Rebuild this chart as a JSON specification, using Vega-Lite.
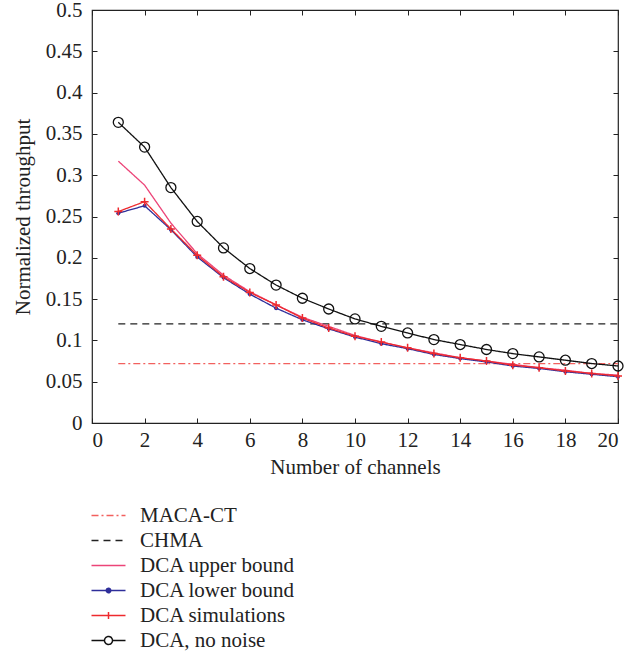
{
  "$schema": "https://vega.github.io/schema/vega-lite/v6.json",
  "autosize": {"type": "none"},
  "width": 526,
  "height": 413,
  "padding": {"left": 92, "top": 10, "right": 24, "bottom": 232},
  "background": "white",
  "config": {
    "view": {"stroke": "#222", "strokeWidth": 1.2},
    "font": "Liberation Serif",
    "axis": {"grid": false, "labelFont": "Liberation Serif", "titleFont": "Liberation Serif", "labelFontSize": 21, "titleFontSize": 21, "titleFontWeight": "normal", "labelColor": "#222", "titleColor": "#222", "tickColor": "#222", "domainColor": "#222", "tickSize": -5, "domain": false}
  },
  "data": {"values": [
    {"series": "MACA-CT", "n": 1, "y": 0.072}, {"series": "MACA-CT", "n": 2, "y": 0.072}, {"series": "MACA-CT", "n": 3, "y": 0.072}, {"series": "MACA-CT", "n": 4, "y": 0.072}, {"series": "MACA-CT", "n": 5, "y": 0.072}, {"series": "MACA-CT", "n": 6, "y": 0.072}, {"series": "MACA-CT", "n": 7, "y": 0.072}, {"series": "MACA-CT", "n": 8, "y": 0.072}, {"series": "MACA-CT", "n": 9, "y": 0.072}, {"series": "MACA-CT", "n": 10, "y": 0.072}, {"series": "MACA-CT", "n": 11, "y": 0.072}, {"series": "MACA-CT", "n": 12, "y": 0.072}, {"series": "MACA-CT", "n": 13, "y": 0.072}, {"series": "MACA-CT", "n": 14, "y": 0.072}, {"series": "MACA-CT", "n": 15, "y": 0.072}, {"series": "MACA-CT", "n": 16, "y": 0.072}, {"series": "MACA-CT", "n": 17, "y": 0.072}, {"series": "MACA-CT", "n": 18, "y": 0.072}, {"series": "MACA-CT", "n": 19, "y": 0.072}, {"series": "MACA-CT", "n": 20, "y": 0.072},
    {"series": "CHMA", "n": 1, "y": 0.12}, {"series": "CHMA", "n": 2, "y": 0.12}, {"series": "CHMA", "n": 3, "y": 0.12}, {"series": "CHMA", "n": 4, "y": 0.12}, {"series": "CHMA", "n": 5, "y": 0.12}, {"series": "CHMA", "n": 6, "y": 0.12}, {"series": "CHMA", "n": 7, "y": 0.12}, {"series": "CHMA", "n": 8, "y": 0.12}, {"series": "CHMA", "n": 9, "y": 0.12}, {"series": "CHMA", "n": 10, "y": 0.12}, {"series": "CHMA", "n": 11, "y": 0.12}, {"series": "CHMA", "n": 12, "y": 0.12}, {"series": "CHMA", "n": 13, "y": 0.12}, {"series": "CHMA", "n": 14, "y": 0.12}, {"series": "CHMA", "n": 15, "y": 0.12}, {"series": "CHMA", "n": 16, "y": 0.12}, {"series": "CHMA", "n": 17, "y": 0.12}, {"series": "CHMA", "n": 18, "y": 0.12}, {"series": "CHMA", "n": 19, "y": 0.12}, {"series": "CHMA", "n": 20, "y": 0.12},
    {"series": "DCA upper bound", "n": 1, "y": 0.317}, {"series": "DCA upper bound", "n": 2, "y": 0.288}, {"series": "DCA upper bound", "n": 3, "y": 0.242}, {"series": "DCA upper bound", "n": 4, "y": 0.205}, {"series": "DCA upper bound", "n": 5, "y": 0.179}, {"series": "DCA upper bound", "n": 6, "y": 0.159}, {"series": "DCA upper bound", "n": 7, "y": 0.143}, {"series": "DCA upper bound", "n": 8, "y": 0.128}, {"series": "DCA upper bound", "n": 9, "y": 0.117}, {"series": "DCA upper bound", "n": 10, "y": 0.106}, {"series": "DCA upper bound", "n": 11, "y": 0.098}, {"series": "DCA upper bound", "n": 12, "y": 0.091}, {"series": "DCA upper bound", "n": 13, "y": 0.085}, {"series": "DCA upper bound", "n": 14, "y": 0.079}, {"series": "DCA upper bound", "n": 15, "y": 0.075}, {"series": "DCA upper bound", "n": 16, "y": 0.071}, {"series": "DCA upper bound", "n": 17, "y": 0.067}, {"series": "DCA upper bound", "n": 18, "y": 0.064}, {"series": "DCA upper bound", "n": 19, "y": 0.060}, {"series": "DCA upper bound", "n": 20, "y": 0.058},
    {"series": "DCA lower bound", "n": 1, "y": 0.254}, {"series": "DCA lower bound", "n": 2, "y": 0.263}, {"series": "DCA lower bound", "n": 3, "y": 0.234}, {"series": "DCA lower bound", "n": 4, "y": 0.201}, {"series": "DCA lower bound", "n": 5, "y": 0.176}, {"series": "DCA lower bound", "n": 6, "y": 0.156}, {"series": "DCA lower bound", "n": 7, "y": 0.139}, {"series": "DCA lower bound", "n": 8, "y": 0.125}, {"series": "DCA lower bound", "n": 9, "y": 0.114}, {"series": "DCA lower bound", "n": 10, "y": 0.104}, {"series": "DCA lower bound", "n": 11, "y": 0.096}, {"series": "DCA lower bound", "n": 12, "y": 0.090}, {"series": "DCA lower bound", "n": 13, "y": 0.083}, {"series": "DCA lower bound", "n": 14, "y": 0.078}, {"series": "DCA lower bound", "n": 15, "y": 0.074}, {"series": "DCA lower bound", "n": 16, "y": 0.069}, {"series": "DCA lower bound", "n": 17, "y": 0.066}, {"series": "DCA lower bound", "n": 18, "y": 0.062}, {"series": "DCA lower bound", "n": 19, "y": 0.059}, {"series": "DCA lower bound", "n": 20, "y": 0.056},
    {"series": "DCA simulations", "n": 1, "y": 0.256}, {"series": "DCA simulations", "n": 2, "y": 0.268}, {"series": "DCA simulations", "n": 3, "y": 0.235}, {"series": "DCA simulations", "n": 4, "y": 0.203}, {"series": "DCA simulations", "n": 5, "y": 0.177}, {"series": "DCA simulations", "n": 6, "y": 0.158}, {"series": "DCA simulations", "n": 7, "y": 0.143}, {"series": "DCA simulations", "n": 8, "y": 0.127}, {"series": "DCA simulations", "n": 9, "y": 0.115}, {"series": "DCA simulations", "n": 10, "y": 0.105}, {"series": "DCA simulations", "n": 11, "y": 0.098}, {"series": "DCA simulations", "n": 12, "y": 0.091}, {"series": "DCA simulations", "n": 13, "y": 0.084}, {"series": "DCA simulations", "n": 14, "y": 0.079}, {"series": "DCA simulations", "n": 15, "y": 0.075}, {"series": "DCA simulations", "n": 16, "y": 0.070}, {"series": "DCA simulations", "n": 17, "y": 0.067}, {"series": "DCA simulations", "n": 18, "y": 0.063}, {"series": "DCA simulations", "n": 19, "y": 0.060}, {"series": "DCA simulations", "n": 20, "y": 0.057},
    {"series": "DCA, no noise", "n": 1, "y": 0.364}, {"series": "DCA, no noise", "n": 2, "y": 0.334}, {"series": "DCA, no noise", "n": 3, "y": 0.285}, {"series": "DCA, no noise", "n": 4, "y": 0.244}, {"series": "DCA, no noise", "n": 5, "y": 0.212}, {"series": "DCA, no noise", "n": 6, "y": 0.187}, {"series": "DCA, no noise", "n": 7, "y": 0.167}, {"series": "DCA, no noise", "n": 8, "y": 0.151}, {"series": "DCA, no noise", "n": 9, "y": 0.138}, {"series": "DCA, no noise", "n": 10, "y": 0.126}, {"series": "DCA, no noise", "n": 11, "y": 0.117}, {"series": "DCA, no noise", "n": 12, "y": 0.109}, {"series": "DCA, no noise", "n": 13, "y": 0.101}, {"series": "DCA, no noise", "n": 14, "y": 0.095}, {"series": "DCA, no noise", "n": 15, "y": 0.089}, {"series": "DCA, no noise", "n": 16, "y": 0.084}, {"series": "DCA, no noise", "n": 17, "y": 0.080}, {"series": "DCA, no noise", "n": 18, "y": 0.076}, {"series": "DCA, no noise", "n": 19, "y": 0.072}, {"series": "DCA, no noise", "n": 20, "y": 0.069}
  ]},
  "layer": [
    {
      "mark": {"type": "line", "strokeWidth": 1.3},
      "encoding": {
        "x": {"field": "n", "type": "quantitative", "scale": {"domain": [0, 20], "nice": false},
              "axis": {"orient": "bottom", "values": [0, 2, 4, 6, 8, 10, 12, 14, 16, 18, 20], "labelPadding": 11, "title": "Number of channels", "titlePadding": 6}},
        "y": {"field": "y", "type": "quantitative", "scale": {"domain": [0, 0.5], "nice": false, "zero": false},
              "axis": {"orient": "left", "values": [0, 0.05, 0.1, 0.15, 0.2, 0.25, 0.3, 0.35, 0.4, 0.45, 0.5], "format": "~g", "labelPadding": 15, "title": "Normalized throughput", "titlePadding": 12}},
        "color": {"field": "series", "type": "nominal",
          "scale": {"domain": ["MACA-CT", "CHMA", "DCA upper bound", "DCA lower bound", "DCA simulations", "DCA, no noise"],
                    "range": ["#f2605e", "#222222", "#ec4478", "#2e2e9a", "#ee2a2e", "#111111"]},
          "legend": {"orient": "none", "legendX": 6, "legendY": 495, "title": null, "labelFont": "Liberation Serif", "labelFontSize": 21, "labelColor": "#222", "labelOffset": 21, "symbolSize": 100, "symbolStrokeWidth": 1.5, "rowPadding": 3, "padding": 0,
            "encode": {"symbols": {"update": {
              "shape": {"signal": "datum.value === 'DCA lower bound' ? 'M-3.4,0L3.4,0M-0.45,0A0.45,0.45 0 1,0 0.45,0A0.45,0.45 0 1,0 -0.45,0' : datum.value === 'DCA simulations' ? 'M-3.4,0L3.4,0M0,-0.7L0,0.7' : datum.value === 'DCA, no noise' ? 'M-3.4,0L-0.8,0M0.8,0L3.4,0M-0.8,0A0.8,0.8 0 1,0 0.8,0A0.8,0.8 0 1,0 -0.8,0' : 'M-3.4,0L3.4,0'"},
              "fill": {"signal": "datum.value === 'DCA lower bound' ? '#2e2e9a' : datum.value === 'DCA, no noise' ? 'white' : 'transparent'"}
            }}}}},
        "strokeDash": {"field": "series", "type": "nominal",
          "scale": {"domain": ["MACA-CT", "CHMA", "DCA upper bound", "DCA lower bound", "DCA simulations", "DCA, no noise"],
                    "range": [[7, 3, 2, 3], [7, 5], [1, 0], [1, 0], [1, 0], [1, 0]]}}
      }
    },
    {
      "transform": [{"filter": "datum.series === 'DCA lower bound'"}],
      "mark": {"type": "point", "shape": "circle", "filled": true, "size": 16, "color": "#2e2e9a", "opacity": 1},
      "encoding": {
        "x": {"field": "n", "type": "quantitative", "axis": {"orient": "top", "values": [0, 2, 4, 6, 8, 10, 12, 14, 16, 18, 20], "labels": false, "title": null}},
        "y": {"field": "y", "type": "quantitative", "axis": {"orient": "right", "values": [0, 0.05, 0.1, 0.15, 0.2, 0.25, 0.3, 0.35, 0.4, 0.45, 0.5], "labels": false, "title": null}}
      }
    },
    {
      "transform": [{"filter": "datum.series === 'DCA simulations'"}],
      "mark": {"type": "point", "shape": "M-1,0L1,0M0,-1L0,1", "filled": false, "size": 64, "stroke": "#ee2a2e", "strokeWidth": 1.5, "opacity": 1},
      "encoding": {
        "x": {"field": "n", "type": "quantitative", "axis": null},
        "y": {"field": "y", "type": "quantitative", "axis": null}
      }
    },
    {
      "transform": [{"filter": "datum.series === 'DCA, no noise'"}],
      "mark": {"type": "point", "shape": "circle", "filled": false, "size": 100, "stroke": "#111111", "strokeWidth": 1.3, "opacity": 1},
      "encoding": {
        "x": {"field": "n", "type": "quantitative", "axis": null},
        "y": {"field": "y", "type": "quantitative", "axis": null}
      }
    }
  ]
}
